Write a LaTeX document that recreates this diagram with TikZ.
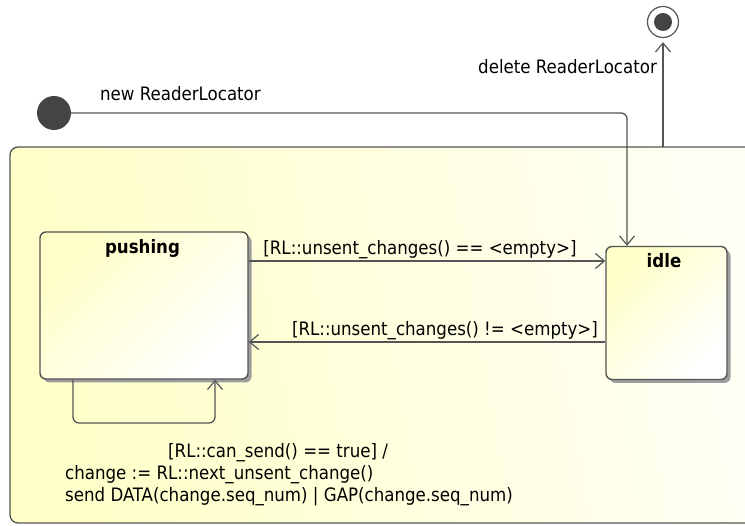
\documentclass[tikz,border=0pt]{standalone}
\usepackage{fontspec}
\setmainfont{DejaVu Sans Condensed}
\usetikzlibrary{arrows.meta,shadows}

\definecolor{linegray}{HTML}{555555}
\definecolor{dotgray}{HTML}{444444}
\definecolor{paleyellow}{HTML}{FFFFC8}
\definecolor{offwhite}{HTML}{FFFFF6}

\tikzset{
	state/.style={draw=linegray, line width=1.4pt, rounded corners=6pt, left color=paleyellow, right color=white, shading angle=45,
		drop shadow={shadow xshift=3.5pt, shadow yshift=-3.5pt, fill=black!38, opacity=1}},
	trans/.style={draw=linegray, line width=1.3pt, -{Straight Barb[length=9pt,width=15pt,line width=1.2pt]}},
	lbl/.style={font=\fontsize{18.5}{22}\selectfont, inner sep=0pt},
	title/.style={font=\fontsize{18.5}{22}\selectfont\bfseries, inner sep=0pt, anchor=base}
}

\begin{document}
\begin{tikzpicture}[x=1pt, y=-1pt]
			%%%%% START %%%%%
			\useasboundingbox (0, 0) rectangle (745, 526);
			
			% composite state, cut off at the right
			\begin{scope}
				\clip (0, 0) rectangle (745, 526);
				\draw[draw=linegray, line width=1.3pt, rounded corners=8pt, left color=paleyellow, right color=offwhite, shading angle=100] (10, 147) rectangle (780, 523);
			\end{scope}
			
			\node[state, minimum width=208pt, minimum height=147pt] (pushing) at (144, 305.5) {};
			\node[title] at (142.5, 254) {pushing};
			
			\node[state, minimum width=121pt, minimum height=133pt] (idle) at (666.5, 313) {};
			\node[title] at (664, 268) {idle};
			
			% initial and final
			\node[circle, fill=dotgray, minimum size=34pt, inner sep=0pt] (start) at (54, 113) {};
			\node[circle, draw=linegray, line width=1.2pt, fill=white, minimum size=31pt, inner sep=0pt] (final) at (663, 22) {};
			\fill[dotgray] (final) circle (9);
			
			\coordinate (bend) at (627, 113);
			\coordinate (exit) at (663, 147);
			\draw[trans, rounded corners=6pt] (start) -- (bend) -- (bend |- idle.north);
			\node[lbl, anchor=base west] at (100, 101) {new ReaderLocator};
			
			\draw[trans, shorten >=4pt] (exit) -- (final.south);
			\node[lbl, anchor=base east] at (657, 74) {delete ReaderLocator};
			
			% pushing <-> idle
			\coordinate (upper) at (0, 261);
			\coordinate (lower) at (0, 342);
			\draw[trans] (pushing.east |- upper) -- node[lbl, anchor=base, yshift=6pt, xshift=-7pt] {[RL::unsent\_changes() == <empty>]} (idle.west |- upper);
			\draw[trans] (idle.west |- lower) -- node[lbl, anchor=base, yshift=6pt, xshift=18pt] {[RL::unsent\_changes() != <empty>]} (pushing.east |- lower);
			
			% self loop
			\coordinate (loopl) at (73, 423);
			\coordinate (loopr) at (215, 423);
			\draw[trans, rounded corners=6pt] (pushing.south -| loopl) -- (loopl) -- (loopr) -- (pushing.south -| loopr);
			\node[lbl, anchor=base west] at (168, 458) {[RL::can\_send() == true] /};
			\node[lbl, anchor=base west] at (65, 480) {change := RL::next\_unsent\_change()};
			\node[lbl, anchor=base west] at (65, 502) {send DATA(change.seq\_num) | GAP(change.seq\_num)};
			
			%%%%% END %%%%%
		\end{tikzpicture}
\end{document}
